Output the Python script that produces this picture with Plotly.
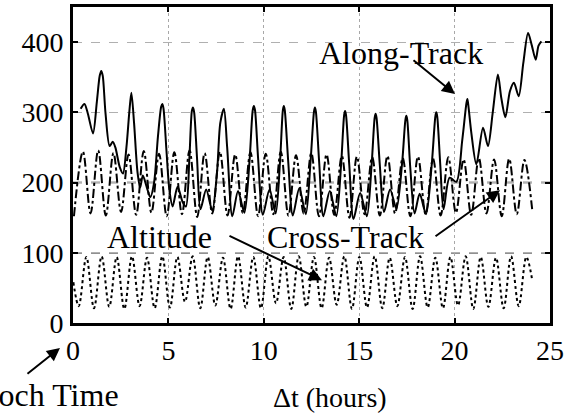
import plotly.graph_objects as go

# ---------------- data ----------------
along_t = [0.40, 0.60, 0.78, 1.05, 1.25, 1.40, 1.48, 1.56, 1.70, 1.92, 2.08, 2.22, 2.45, 2.62, 2.80, 2.95,
           3.06, 3.20, 3.38, 3.52, 3.66, 3.85, 4.05, 4.25, 4.45, 4.62, 4.68, 4.74, 4.90, 5.05, 5.22, 5.48, 5.75,
           5.92, 6.10, 6.23, 6.29, 6.35, 6.50, 6.68, 6.98, 7.30, 7.55, 7.72, 7.91, 8.08, 8.35, 8.65, 8.98, 9.25,
           9.42, 9.48, 9.54, 9.70, 9.95, 10.30, 10.62, 10.85, 11.00, 11.05, 11.10, 11.28, 11.52, 11.86, 12.20, 12.45,
           12.63, 12.68, 12.73,
           12.90, 13.12, 13.46, 13.80, 14.05, 14.21, 14.26, 14.31, 14.48, 14.70, 15.05, 15.40, 15.65, 15.81, 15.86,
           15.91, 16.08,
           16.30, 16.62, 16.95, 17.25, 17.42, 17.47, 17.52, 17.68, 17.90, 18.17, 18.50, 18.80, 18.99, 19.04, 19.09,
           19.25, 19.42,
           19.74, 20.09, 20.40, 20.62, 20.67, 20.72, 20.88, 21.14, 21.49, 21.75, 22.00, 22.27, 22.45, 22.66, 22.90,
           23.11, 23.36, 23.60, 23.85, 24.05, 24.25, 24.40, 24.55]
along_v = [305, 312, 298, 270, 315, 352, 359, 352, 300, 252, 258, 250, 222, 213, 250, 300,
           328, 285, 215, 193, 210, 195, 179, 200, 265, 308, 312, 306, 245, 190, 166, 194, 172,
           166, 235, 302, 307, 300, 235, 162, 190, 160, 215, 285, 305, 250, 152, 188, 157, 230,
           303, 309, 303, 235, 154, 190, 156, 230, 303, 309, 303, 230, 153, 192, 155, 230,
           301, 307, 301,
           230, 152, 188, 152, 225, 296, 302, 296, 225, 148, 185, 152, 225, 292, 298,
           292, 225,
           158, 190, 163, 228, 289, 295, 289, 220, 156, 184, 155, 225, 294, 300, 294,
           225, 162,
           207, 201, 260, 313, 319, 310, 270, 226, 278, 252, 300, 354, 320, 293, 330,
           342, 323, 370, 413, 395, 375, 395, 401]

cross_t = [0.05, 0.52, 0.92, 1.32, 1.72, 2.12, 2.52, 2.91, 3.31, 3.71, 4.11, 4.51, 4.91, 5.31, 5.71,
           6.11, 6.51, 6.90, 7.30, 7.70, 8.10, 8.50, 8.90, 9.30, 9.70, 10.10, 10.50, 10.89, 11.29,
           11.69, 12.09, 12.49, 12.89, 13.29, 13.69, 14.09, 14.49, 14.88, 15.28, 15.68, 16.08, 16.48,
           16.88, 17.28, 17.68, 18.08, 18.48, 18.87, 19.27, 19.67, 20.07, 20.47, 20.87, 21.27, 21.67,
           22.07, 22.47, 22.86, 23.26, 23.66, 24.08]
cross_v = [152, 244, 156, 246, 153, 242, 158, 240, 154, 245, 157, 241, 152, 243, 155,
           246, 151, 242, 156, 244, 153, 240, 157, 243, 152, 241, 155, 244, 153,
           239, 156, 242, 152, 240, 154, 238, 150, 237, 155, 236, 153, 238,
           156, 235, 152, 237, 155, 234, 153, 236, 157, 233, 154, 235, 156,
           233, 152, 234, 155, 232, 158]

alt_t = [0.02, 0.30, 0.70, 1.10, 1.50, 1.90, 2.29, 2.69, 3.09, 3.49, 3.88, 4.28, 4.68, 5.08, 5.47,
         5.87, 6.27, 6.67, 7.06, 7.46, 7.86, 8.26, 8.65, 9.05, 9.45, 9.85, 10.24, 10.64, 11.04,
         11.44, 11.83, 12.23, 12.63, 13.03, 13.42, 13.82, 14.22, 14.62, 15.01, 15.41, 15.81, 16.21,
         16.60, 17.00, 17.40, 17.80, 18.19, 18.59, 18.99, 19.39, 19.78, 20.18, 20.58, 20.98, 21.37,
         21.77, 22.17, 22.57, 22.96, 23.36, 23.76, 24.05]
alt_v = [58, 24, 94, 21, 95, 23, 94, 20, 95, 24, 93, 21, 95, 22, 94,
         30, 95, 21, 94, 25, 93, 20, 95, 22, 94, 21, 95, 28, 94,
         20, 95, 23, 94, 21, 93, 26, 95, 20, 94, 22, 95, 21,
         93, 24, 94, 20, 95, 22, 93, 21, 94, 25, 95, 20, 94,
         23, 93, 21, 95, 24, 94, 64]

x_ticks = [0, 5, 10, 15, 20, 25]
y_ticks = [0, 100, 200, 300, 400]
dark_grid = [100, 200]

FONT = "Liberation Serif"

fig = go.Figure()
fig.add_trace(go.Scatter(x=alt_t, y=alt_v, mode="lines", name="Altitude",
                         line=dict(color="black", width=2, dash="dot", shape="spline", smoothing=1.0)))
fig.add_trace(go.Scatter(x=cross_t, y=cross_v, mode="lines", name="Cross-Track",
                         line=dict(color="black", width=2, dash="dashdot", shape="spline", smoothing=1.0)))
fig.add_trace(go.Scatter(x=along_t, y=along_v, mode="lines", name="Along-Track",
                         line=dict(color="black", width=2, shape="spline", smoothing=0.8)))

for g in dark_grid:
    fig.add_shape(type="line", xref="paper", x0=0, x1=1, yref="y", y0=g, y1=g,
                  line=dict(color="#222222", width=1.5, dash="dash"), layer="below")

fig.update_layout(
    width=574, height=415,
    margin=dict(l=73, r=24, t=7, b=92, autoexpand=False),
    paper_bgcolor="white", plot_bgcolor="white",
    showlegend=False,
    font=dict(family=FONT, size=28, color="black"),
    xaxis=dict(range=[0, 25], tickvals=x_ticks, ticks="inside", ticklen=5, tickwidth=2,
               tickcolor="black", showline=True, linecolor="black", linewidth=3, mirror="ticks",
               showgrid=True, gridcolor="#a8a8a8", griddash="dot", gridwidth=1,
               zeroline=False, automargin=False, ticklabelstandoff=0, tickfont=dict(size=28)),
    yaxis=dict(range=[0, 450], tickvals=y_ticks, ticks="inside", ticklen=5, tickwidth=2,
               tickcolor="black", showline=True, linecolor="black", linewidth=3, mirror="ticks",
               showgrid=True, gridcolor="#b0b0b0", griddash="dash", gridwidth=1,
               zeroline=False, automargin=False, ticklabelstandoff=1, tickfont=dict(size=28)),
)

ann_font = dict(family=FONT, size=32, color="black")
fig.add_annotation(x=17.19, y=384, xref="x", yref="y", text="Along-Track", showarrow=False, font=ann_font)
fig.add_annotation(x=4.51, y=123, xref="x", yref="y", text="Altitude", showarrow=False, font=ann_font)
fig.add_annotation(x=14.26, y=123, xref="x", yref="y", text="Cross-Track", showarrow=False, font=ann_font)
fig.add_annotation(x=0.539, y=-0.29, xref="paper", yref="paper", text="\u0394t (hours)",
                   showarrow=False, font=dict(family=FONT, size=28, color="black"))
fig.add_annotation(x=0.1, y=-0.29, xref="paper", yref="paper", text="Epoch Time",
                   xanchor="right", showarrow=False, font=dict(family=FONT, size=32, color="black"))

arrow = dict(showarrow=True, arrowhead=2, arrowsize=1.3, arrowwidth=2, arrowcolor="black",
             text="", standoff=0, startstandoff=0)
fig.add_annotation(x=20.02, y=326, xref="x", yref="y", ax=-43, ay=-35, **arrow)
fig.add_annotation(x=13.05, y=61, xref="x", yref="y", ax=-94, ay=-45, **arrow)
fig.add_annotation(x=22.38, y=189, xref="x", yref="y", ax=-66, ay=47, **arrow)
fig.add_annotation(x=-0.0273, y=-0.079, xref="paper", yref="paper", ax=-34, ay=27, **arrow)

fig.write_html("out.html", config={"displayModeBar": False},
               post_script="document.body.style.margin='0';document.body.style.padding='0';"
                           "document.body.style.overflow='hidden';")
